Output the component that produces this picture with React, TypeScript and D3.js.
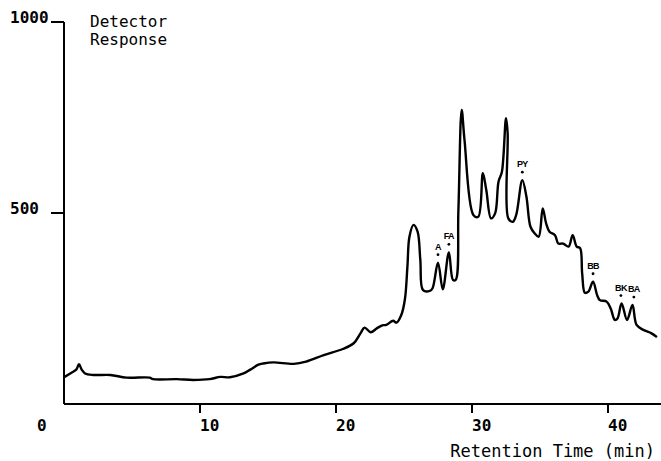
import * as d3 from "d3";

// Chromatogram trace
const times = [
  0.05, 0.55, 0.9, 1.1, 1.3, 1.55, 2.15, 3.4, 4.6, 6.3, 6.55, 8.3, 9.5, 10.7, 11.5, 12.2,
  13.2, 13.7, 14.3, 14.65, 15.4, 16.9, 17.8, 19.1, 20.5, 21.3, 21.8, 22.1, 22.55, 23.0,
  23.4, 23.7, 24.2, 24.45, 24.8, 25.07, 25.25, 25.4, 25.7, 26.0, 26.2, 26.4, 26.9, 27.1,
  27.5, 27.85, 28.3, 28.6, 28.8, 29.0, 29.24, 29.45, 30.1, 30.46, 30.8, 31.05, 31.4, 31.7,
  31.95, 32.2, 32.5, 32.62, 32.67, 33.0, 33.25, 33.7, 34.0, 34.3, 34.6, 34.9, 35.2, 35.45,
  35.7, 36.1, 36.35, 36.7, 37.1, 37.4, 37.7, 37.95, 38.1, 38.3, 38.55, 38.9, 39.2, 39.4,
  39.9, 40.2, 40.5, 40.7, 41.0, 41.4, 41.8, 42.1, 42.6, 43.2, 43.6,
];
const response = [
  71, 82, 90, 104, 90, 80, 76, 76, 69, 69, 65, 65, 63, 65, 71, 70,
  80, 90, 103, 106, 109, 105, 111, 128, 144, 159, 185, 200, 188, 198,
  206, 207, 218, 213, 233, 275, 359, 438, 469, 451, 377, 298, 296, 303,
  370, 300, 397, 325, 325, 508, 770, 691, 495, 490, 604, 560, 486, 499,
  582, 608, 748, 709, 486, 477, 495, 586, 543, 464, 447, 438, 512, 473,
  451, 442, 420, 420, 412, 442, 412, 408, 342, 291, 294, 320, 285, 272,
  268, 250, 220, 224, 263, 220, 259, 207, 194, 185, 175,
];

// Marked peaks
const peakLabels = ["A", "FA", "PY", "BB", "BK", "BA"];
const peakTimes = [27.5, 28.3, 33.7, 38.9, 40.95, 41.9];
const peakValues = [370, 397, 586, 320, 263, 259];

const xTicks = [10, 20, 30, 40];
const yTicks = [500, 1000];

const W = 661;
const H = 461;
const FONT = "'DejaVu Sans Mono', monospace";

export default function App() {
  const x = d3.scaleLinear().domain([0, 10]).range([64, 200]);
  const y = d3.scaleLinear().domain([0, 1000]).range([404, 22]);

  const pts = times.map((t, i) => [t, response[i]] as [number, number]);
  const line = d3
    .line<[number, number]>()
    .x((d) => x(d[0]))
    .y((d) => y(d[1]))
    .curve(d3.curveCatmullRom.alpha(0.5));

  return (
    <svg
      width={W}
      height={H}
      style={{ position: "absolute", left: 0, top: 0, background: "#fff" }}
    >
      {/* axes */}
      <line x1={x(0)} x2={x(0)} y1={y(1000)} y2={y(0)} stroke="#000" strokeWidth={2} />
      <line x1={x(0)} x2={W} y1={y(0)} y2={y(0)} stroke="#000" strokeWidth={2} />

      {yTicks.map((v) => (
        <g key={v}>
          <line x1={x(0) - 13} x2={x(0)} y1={y(v)} y2={y(v)} stroke="#000" strokeWidth={2} />
          <text
            x={10}
            y={y(v) + 1}
            fontFamily={FONT}
            fontWeight="bold"
            fontSize={16}
            fill="#000"
          >
            {v}
          </text>
        </g>
      ))}

      {xTicks.map((t) => (
        <g key={t}>
          <line x1={x(t)} x2={x(t)} y1={y(0)} y2={y(0) + 9} stroke="#000" strokeWidth={2} />
          <text x={x(t)} y={431} fontFamily={FONT} fontWeight="bold" fontSize={16} fill="#000">
            {t}
          </text>
        </g>
      ))}
      <text x={x(0) - 27} y={431} fontFamily={FONT} fontWeight="bold" fontSize={16} fill="#000">
        0
      </text>

      <text x={90} y={27} fontFamily={FONT} fontSize={16} fill="#000">
        Detector
      </text>
      <text x={90} y={45} fontFamily={FONT} fontSize={16} fill="#000">
        Response
      </text>
      <text x={655} y={457} textAnchor="end" fontFamily={FONT} fontSize={17} fill="#000">
        Retention Time (min)
      </text>

      {/* trace */}
      <path d={line(pts) ?? ""} fill="none" stroke="#000" strokeWidth={2.4} strokeLinejoin="round" />

      {/* peak markers */}
      {peakLabels.map((lab, i) => (
        <g key={lab}>
          <circle cx={x(peakTimes[i])} cy={y(peakValues[i]) - 8} r={1.4} fill="#000" />
          <text
            x={x(peakTimes[i])}
            y={y(peakValues[i]) - 13}
            textAnchor="middle"
            fontFamily="'Liberation Sans', Arial, sans-serif"
            fontWeight="bold"
            fontSize={9}
            letterSpacing={-0.6}
            fill="#000"
          >
            {lab}
          </text>
        </g>
      ))}
    </svg>
  );
}
